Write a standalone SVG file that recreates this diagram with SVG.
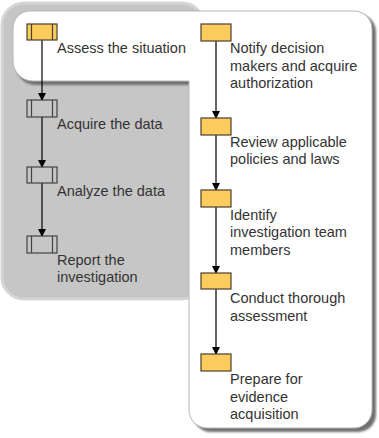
<svg xmlns="http://www.w3.org/2000/svg" width="379" height="438" viewBox="0 0 379 438">
<defs>
<filter id="sh" x="-10%" y="-10%" width="130%" height="130%">
<feGaussianBlur stdDeviation="1"/>
</filter>
<marker id="ah" markerWidth="8" markerHeight="10" refX="7" refY="4" orient="auto" markerUnits="userSpaceOnUse" viewBox="0 0 8 10">
<path d="M0,0 L8,4 L0,8 Z" fill="#000"/>
</marker>
</defs>
<style>
text{font-family:"Liberation Sans",Arial,sans-serif;font-size:14.5px;fill:#333}
.y{fill:#fccd5e;stroke:#4a4030;stroke-width:1.2}
.g{fill:none;stroke:#444;stroke-width:1.2}
.c{stroke:#000;stroke-width:1.2;fill:none;marker-end:url(#ah)}
</style>
<rect x="2" y="3" width="202" height="296" rx="22" fill="#c6c6c6" stroke="#d5d5d5" stroke-width="3"/>
<path d="M16,31 A17,17 0 0 1 33,14 H358 A18,18 0 0 1 376,32 V413 A18,18 0 0 1 358,432 H211 A18,18 0 0 1 193,414 V85 H35 A20,20 0 0 1 16,66 Z" fill="#707070" filter="url(#sh)"/>
<path d="M13,28 A17,17 0 0 1 30,11 H354 A18,18 0 0 1 372,29 V410 A18,18 0 0 1 354,428 H207 A18,18 0 0 1 189,410 V81 H33 A20,20 0 0 1 13,61 Z" fill="#fff" stroke="#b5b5b5" stroke-width="1"/>
<g id="connectors">
<line class="c" x1="42" y1="40" x2="42" y2="100"/>
<line class="c" x1="42" y1="117" x2="42" y2="167"/>
<line class="c" x1="42" y1="183" x2="42" y2="236"/>
<line class="c" x1="216" y1="41" x2="216" y2="118"/>
<line class="c" x1="216" y1="135" x2="216" y2="190"/>
<line class="c" x1="216" y1="207" x2="216" y2="273"/>
<line class="c" x1="216" y1="289" x2="216" y2="354"/>
</g>
<g id="assess">
<rect class="y" x="27" y="24" width="30" height="16"/>
<line class="y" x1="31.5" y1="24" x2="31.5" y2="40"/>
<line class="y" x1="52.5" y1="24" x2="52.5" y2="40"/>
<text x="57" y="53">Assess the situation</text>
</g>
<g id="acquire">
<rect class="g" x="27" y="100" width="30" height="17"/>
<line class="g" x1="31.5" y1="100" x2="31.5" y2="117"/>
<line class="g" x1="52.5" y1="100" x2="52.5" y2="117"/>
<text x="57" y="129">Acquire the data</text>
</g>
<g id="analyze">
<rect class="g" x="27" y="167" width="30" height="16"/>
<line class="g" x1="31.5" y1="167" x2="31.5" y2="183"/>
<line class="g" x1="52.5" y1="167" x2="52.5" y2="183"/>
<text x="57" y="196">Analyze the data</text>
</g>
<g id="report">
<rect class="g" x="27" y="236" width="30" height="17"/>
<line class="g" x1="31.5" y1="236" x2="31.5" y2="253"/>
<line class="g" x1="52.5" y1="236" x2="52.5" y2="253"/>
<text x="57" y="265">Report the</text>
<text x="57" y="282">investigation</text>
</g>
<g id="notify">
<rect class="y" x="201" y="24" width="30" height="17"/>
<text x="230" y="53">Notify decision</text>
<text x="230" y="71">makers and acquire</text>
<text x="230" y="88">authorization</text>
</g>
<g id="review">
<rect class="y" x="201" y="118" width="30" height="17"/>
<text x="230" y="147">Review applicable</text>
<text x="230" y="164">policies and laws</text>
</g>
<g id="identify">
<rect class="y" x="201" y="190" width="30" height="17"/>
<text x="230" y="220">Identify</text>
<text x="230" y="237">investigation team</text>
<text x="230" y="255">members</text>
</g>
<g id="conduct">
<rect class="y" x="201" y="273" width="30" height="16"/>
<text x="230" y="303">Conduct thorough</text>
<text x="230" y="321">assessment</text>
</g>
<g id="prepare">
<rect class="y" x="201" y="354" width="30" height="17"/>
<text x="230" y="384">Prepare for</text>
<text x="230" y="402">evidence</text>
<text x="230" y="419">acquisition</text>
</g>
</svg>
